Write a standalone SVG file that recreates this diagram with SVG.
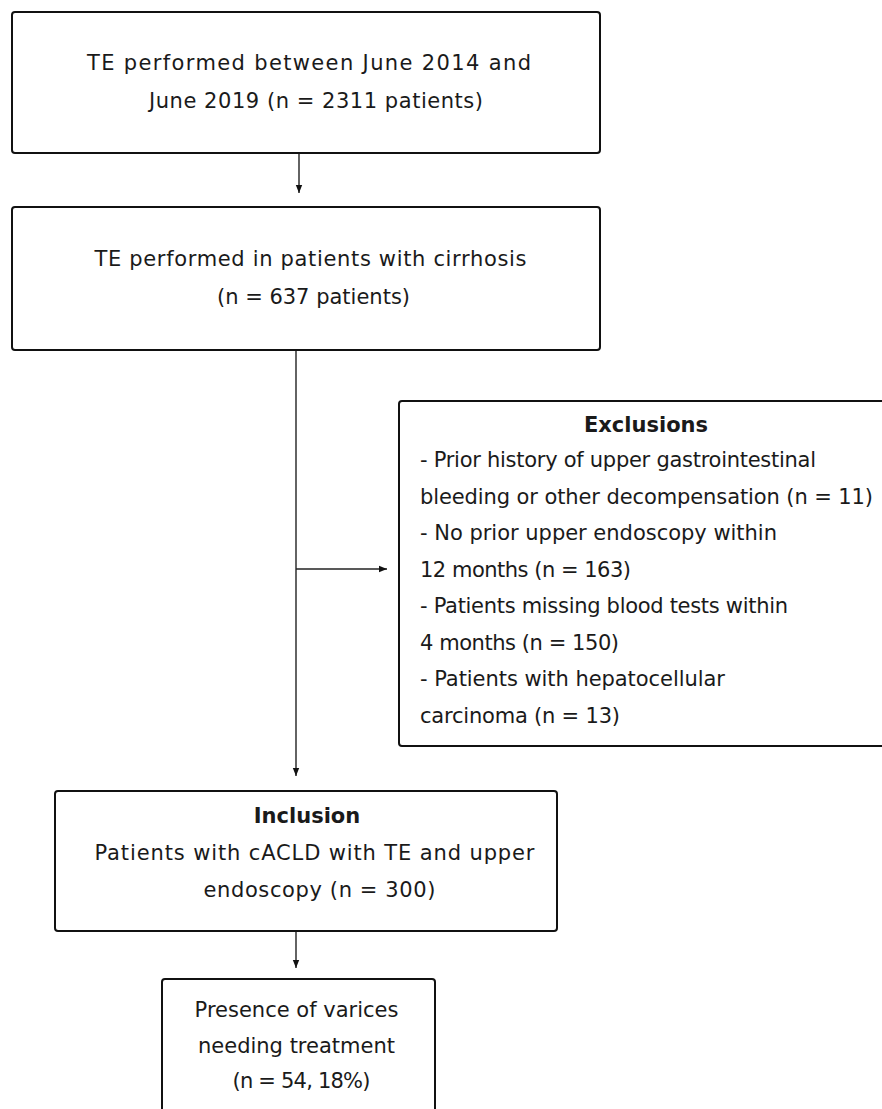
<svg xmlns="http://www.w3.org/2000/svg" width="882" height="1109" viewBox="0 0 882 1109">
<style>
  .box { fill: #ffffff; stroke: #111111; stroke-width: 2; }
  .t { font-family: "DejaVu Sans", "Liberation Sans", sans-serif; font-size: 21px; fill: #1a1a1a; }
  .c { text-anchor: middle; }
  .b { font-weight: bold; }
  .conn { stroke: #222222; stroke-width: 1.4; fill: none; }
</style>
<defs>
  <marker id="arr" viewBox="0 0 10 10" refX="10" refY="5" markerWidth="8" markerHeight="8" markerUnits="userSpaceOnUse" orient="auto">
    <path d="M0,1 L10,5 L0,9 z" fill="#111111"/>
  </marker>
</defs>
<rect width="882" height="1109" fill="#ffffff"/>

<g id="connectors">
  <line class="conn" x1="299" y1="154" x2="299" y2="193" marker-end="url(#arr)"/>
  <line class="conn" x1="296" y1="350" x2="296" y2="776" marker-end="url(#arr)"/>
  <line class="conn" x1="296" y1="569" x2="387" y2="569" marker-end="url(#arr)"/>
  <line class="conn" x1="296" y1="931" x2="296" y2="968" marker-end="url(#arr)"/>
</g>

<g id="node-te-total">
  <rect class="box" x="12" y="12" width="588" height="141" rx="3"/>
  <text class="t c" x="309" y="70" textLength="444" lengthAdjust="spacing">TE performed between June 2014 and</text>
  <text class="t c" x="316" y="108" textLength="334" lengthAdjust="spacing">June 2019 (n = 2311 patients)</text>
</g>

<g id="node-te-cirrhosis">
  <rect class="box" x="12" y="207" width="588" height="143" rx="3"/>
  <text class="t c" x="310.5" y="266" textLength="432" lengthAdjust="spacing">TE performed in patients with cirrhosis</text>
  <text class="t c" x="313.5" y="304">(n = 637 patients)</text>
</g>

<g id="node-exclusions">
  <rect class="box" x="399" y="401" width="495" height="345" rx="3"/>
  <text class="t c b" x="646" y="432">Exclusions</text>
  <text class="t" x="420" y="467" textLength="396" lengthAdjust="spacing">- Prior history of upper gastrointestinal</text>
  <text class="t" x="420" y="503.5" textLength="453" lengthAdjust="spacing">bleeding or other decompensation (n = 11)</text>
  <text class="t" x="420" y="540" textLength="357" lengthAdjust="spacing">- No prior upper endoscopy within</text>
  <text class="t" x="420" y="576.5" textLength="211" lengthAdjust="spacing">12 months (n = 163)</text>
  <text class="t" x="420" y="613" textLength="368" lengthAdjust="spacing">- Patients missing blood tests within</text>
  <text class="t" x="420" y="649.5" textLength="199" lengthAdjust="spacing">4 months (n = 150)</text>
  <text class="t" x="420" y="686" textLength="305" lengthAdjust="spacing">- Patients with hepatocellular</text>
  <text class="t" x="420" y="722.5" textLength="200" lengthAdjust="spacing">carcinoma (n = 13)</text>
</g>

<g id="node-inclusion">
  <rect class="box" x="55" y="791" width="502" height="140" rx="3"/>
  <text class="t c b" x="307" y="823">Inclusion</text>
  <text class="t c" x="314.5" y="860" textLength="440" lengthAdjust="spacing">Patients with cACLD with TE and upper</text>
  <text class="t c" x="319.5" y="897" textLength="232" lengthAdjust="spacing">endoscopy (n = 300)</text>
</g>

<g id="node-varices">
  <rect class="box" x="162" y="979" width="273" height="145" rx="3"/>
  <text class="t c" x="296.5" y="1017">Presence of varices</text>
  <text class="t c" x="296.5" y="1053">needing treatment</text>
  <text class="t c" x="301.5" y="1088" textLength="138" lengthAdjust="spacing">(n = 54, 18%)</text>
</g>
</svg>
